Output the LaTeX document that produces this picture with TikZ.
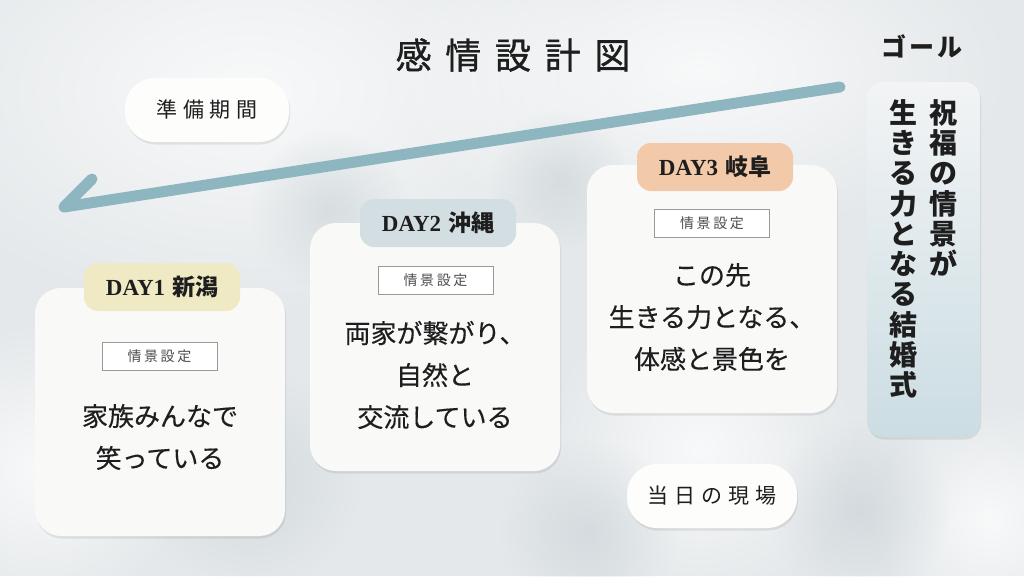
\documentclass[tikz,border=0pt]{standalone}
\usepackage{fontspec}
\newfontfamily\jp{Noto Sans CJK JP}
\newfontfamily\lat{Liberation Serif}
\usetikzlibrary{shadows,fadings}
\tikzfading[name=softglow, inner color=transparent!0, outer color=transparent!100]
\definecolor{bg}{HTML}{E4E8EA}
\definecolor{bglight}{HTML}{FAFBFB}
\definecolor{bgdark}{HTML}{C9D2D6}
\definecolor{cardfill}{HTML}{F9F9F8}
\definecolor{tagone}{HTML}{EFE9C4}
\definecolor{tagtwo}{HTML}{D3DEE3}
\definecolor{tagthree}{HTML}{F2C9A9}
\definecolor{arrowcol}{HTML}{8DB6C1}
\definecolor{goaltop}{HTML}{F2F4F5}
\definecolor{goalbot}{HTML}{CBDDE3}
\definecolor{ink}{HTML}{1E1E1E}
\tikzset{
  softshadow/.style={drop shadow={shadow xshift=1pt, shadow yshift=-2.5pt, opacity=0.08, fill=black}},
  card/.style={fill=cardfill, rounded corners=26pt, minimum width=250pt, minimum height=248pt, inner sep=0pt, softshadow},
  tag/.style={rounded corners=14pt, minimum width=156pt, minimum height=48pt, inner sep=0pt, text=ink, font=\fontsize{23}{23}\selectfont},
  scenebox/.style={draw=black!40, line width=0.8pt, fill=white, minimum width=115pt, minimum height=28pt, inner sep=0pt, text=black!70, font=\jp\fontsize{14}{14}\selectfont\addfontfeatures{LetterSpace=18}},
  body/.style={align=center, text=ink, inner sep=0pt, font=\jp\fontsize{26}{42}\selectfont\addfontfeatures{FakeBold=0.3}},
  pill/.style={fill=white!60!cardfill, rounded corners=30pt, minimum width=164pt, minimum height=64pt, inner sep=0pt, text=ink, font=\jp\fontsize{21}{21}\selectfont\addfontfeatures{LetterSpace=28}, softshadow},
  vert/.style={align=center, text=ink, inner sep=0pt, anchor=north, font=\jp\bfseries\fontsize{28}{30.3}\selectfont},
  arrowline/.style={draw=arrowcol, line width=11pt, line cap=round, line join=round},
  glowlight/.style={fill=white, opacity=0.75, path fading=softglow},
  glowdark/.style={fill=bgdark, opacity=0.6, path fading=softglow}
}
\begin{document}
\begin{tikzpicture}[x=1pt,y=-1pt]
\useasboundingbox (0,0) rectangle (1024,576);
% background
\fill[bg] (0,0) rectangle (1024,576);
\begin{scope}
\clip (0,0) rectangle (1024,576);
\fill[glowlight] (250,90) ellipse [x radius=380, y radius=230];
\fill[glowlight] (700,70) ellipse [x radius=320, y radius=170];
\fill[glowlight] (700,450) circle [radius=160];
\fill[glowlight] (40,470) circle [radius=150];
\fill[glowlight] (990,520) circle [radius=120];
\fill[glowdark] (330,210) circle [radius=80];
\fill[glowdark] (250,480) circle [radius=110];
\fill[glowdark] (590,530) circle [radius=90];
\fill[glowdark] (860,510) circle [radius=90];
\fill[glowdark] (560,180) circle [radius=70];
\end{scope}

% title
\node[text=ink, inner sep=0pt, font=\jp\fontsize{36}{36}\selectfont\addfontfeatures{LetterSpace=38,FakeBold=1}] (title) at (513,55) {感情設計図};

% arrow
\coordinate (astart) at (840,87);
\coordinate (atip) at (64,207);
\coordinate (abarb) at (92,179);
\draw[arrowline] (astart) -- (atip) -- (abarb);

% pills
\node[pill] (prep) at (207,110) {準備期間};
\node[pill, minimum width=170pt] (today) at (712,496) {当日の現場};

% goal
\node[text=ink, inner sep=0pt, font=\jp\bfseries\fontsize{25}{25}\selectfont\addfontfeatures{LetterSpace=12}] (goal) at (922,46) {ゴール};
\node[rounded corners=16pt, minimum width=113pt, minimum height=355pt, inner sep=0pt, top color=goaltop, bottom color=goalbot, softshadow] (goalbox) at (923.5,259.5) {};
\node[vert] (goalr) at (943,99) {祝\\福\\の\\情\\景\\が};
\node[vert] (goall) at (903,99) {生\\き\\る\\力\\と\\な\\る\\結\\婚\\式};

% DAY1
\node[card] (card1) at (160,412) {};
\node[tag, fill=tagone] (tag1) at (162,287) {{\lat\bfseries DAY1} {\jp\bfseries 新潟}};
\node[scenebox] (sc1) at (159.5,356) {情景設定};
\node[body] (body1) at (160,437) {家族みんなで\\笑っている};

% DAY2
\node[card] (card2) at (435,347) {};
\node[tag, fill=tagtwo] (tag2) at (438,223) {{\lat\bfseries DAY2} {\jp\bfseries 沖縄}};
\node[scenebox] (sc2) at (435.5,280) {情景設定};
\node[body] (body2) at (435,375) {両家が繋がり、\\自然と\\交流している};

% DAY3
\node[card] (card3) at (712,289) {};
\node[tag, fill=tagthree] (tag3) at (715,167) {{\lat\bfseries DAY3} {\jp\bfseries 岐阜}};
\node[scenebox] (sc3) at (712,223) {情景設定};
\node[body] (body3) at (712,317) {この先\\生きる力となる、\\体感と景色を};
\end{tikzpicture}
\end{document}
